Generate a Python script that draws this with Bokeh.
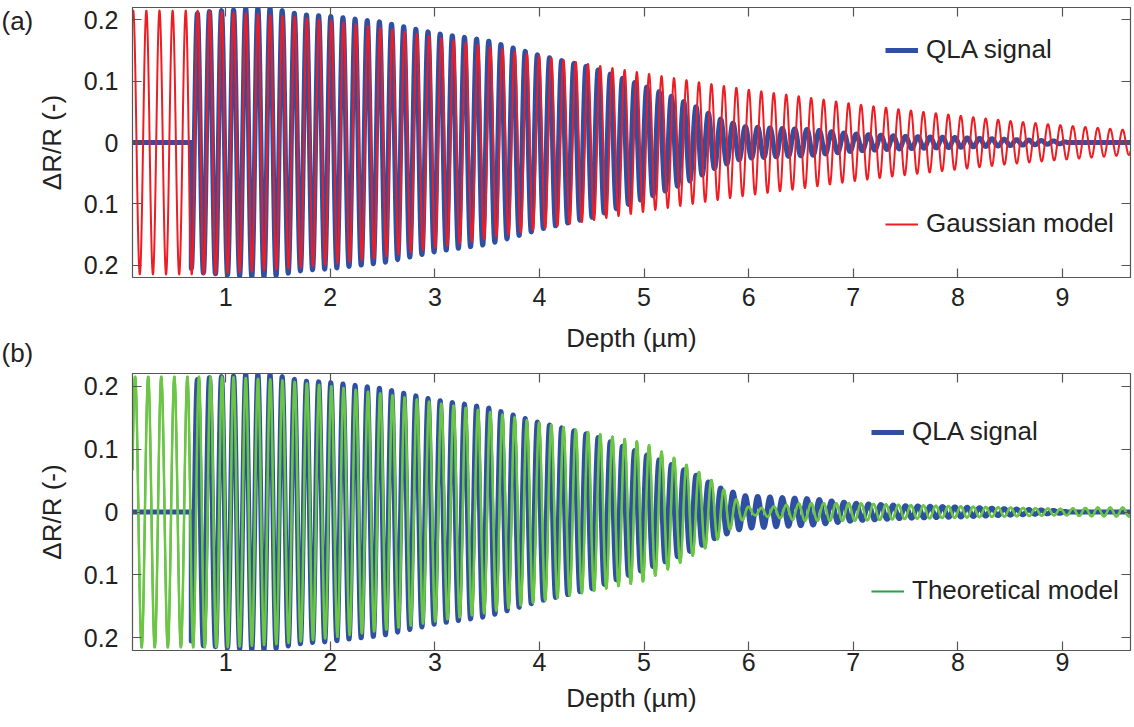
import numpy as np
from bokeh.plotting import figure
from bokeh.models import (LinearAxis, FixedTicker, Legend, LegendItem, Range1d, Label)
from bokeh.layouts import column, row
from bokeh.embed import file_html
from bokeh.resources import INLINE

FONT = "Liberation Sans"
TXT = "#222222"
AX = "#555555"

# ---------------- data ----------------
x_ticks = [1, 2, 3, 4, 5, 6, 7, 8, 9]
y_ticks = [-0.2, -0.1, 0.0, 0.1, 0.2]
y_tick_labels = ["0.2", "0.1", "0", "0.1", "0.2"]
depth_min, depth_max = 0.11, 9.65

# QLA signal (measured): start / end, envelope (amplitude) and peak positions
qla_start, qla_end = 0.672, 9.05
qla_env_depth = [0.672, 0.75, 0.96, 1.08, 1.2, 1.42, 1.54, 1.65, 1.76, 1.98, 2.5, 3.0, 3.5, 4.0,
                 4.5, 5.0, 5.25, 5.5, 5.7, 5.95, 6.3, 6.6, 7.0, 7.5, 8.0, 8.5, 9.0, 9.05]
qla_env = [0.205, 0.212, 0.215, 0.216, 0.219, 0.219, 0.215, 0.211, 0.208, 0.206, 0.196, 0.178, 0.166, 0.142,
           0.122, 0.092, 0.076, 0.058, 0.040, 0.026, 0.023, 0.021, 0.014, 0.010, 0.008, 0.005, 0.002, 0.0]
qla_peak_depth = [0.730, 1.076, 5.026, 7.971, 9.033]
qla_peak_index = [-3, 0, 34, 59, 68]

# Gaussian model
gauss_env_depth = [0.11, 0.9, 1.0, 1.5, 2.0, 2.5, 3.0, 3.5, 4.0, 4.5, 5.0, 5.5, 6.0, 6.5,
                   7.0, 7.5, 8.0, 8.5, 9.0, 9.65]
gauss_env = [0.215, 0.215, 0.213, 0.207, 0.199, 0.187, 0.172, 0.157, 0.141, 0.127, 0.113, 0.099, 0.086, 0.075,
             0.063, 0.053, 0.044, 0.035, 0.028, 0.020]
gauss_peak_depth = [0.117, 0.619, 1.076, 5.048, 8.028, 9.575]
gauss_peak_index = [-8, -4, 0, 34, 59, 72]

# Theoretical model
theo_env_depth = [0.11, 1.0, 1.5, 2.0, 2.5, 3.0, 3.5, 4.0, 4.5, 5.0, 5.3, 5.5, 5.62, 5.73, 5.84,
                  5.95, 6.05, 6.2, 6.5, 7.0, 7.5, 8.0, 8.5, 9.0, 9.3, 9.65]
theo_env = [0.215, 0.215, 0.210, 0.200, 0.188, 0.174, 0.160, 0.142, 0.126, 0.110, 0.085, 0.066, 0.054, 0.040, 0.025,
            0.012, 0.005, 0.008, 0.014, 0.014, 0.011, 0.009, 0.007, 0.005, 0.007, 0.007]
theo_peak_depth = [0.135, 0.635, 1.076, 5.048, 8.028, 9.575]
theo_peak_index = [-8, -4, 0, 34, 59, 72]

panel_tags = ["(a)", "(b)"]

C_QLA = "#2F4FA2"
C_GAUSS = "#EE1D23"
C_THEO = "#6CC644"
C_THEO_LEG = "#2BA04A"

TAG_W = 33           # narrow strip on the left that holds the panel tags
H1, H2 = 372, 354    # heights of the two panels


def cycles(d, pd, pi):
    pd = np.asarray(pd, float)
    pi = np.asarray(pi, float)
    out = np.interp(d, pd, pi)
    sl = (pi[1] - pi[0]) / (pd[1] - pd[0])
    sr = (pi[-1] - pi[-2]) / (pd[-1] - pd[-2])
    out = np.where(d < pd[0], pi[0] + (d - pd[0]) * sl, out)
    out = np.where(d > pd[-1], pi[-1] + (d - pd[-1]) * sr, out)
    return out


def signal(d, ed, ev, pd, pi):
    return np.interp(d, ed, ev) * np.cos(2 * np.pi * cycles(d, pd, pi))


grid = np.linspace(depth_min, depth_max, 5000)

# QLA curve, zero outside its measured span, with a vertical jump at its start
inside = (grid > qla_start) & (grid <= qla_end)
qx = np.concatenate([grid[grid <= qla_start], [qla_start, qla_start], grid[inside], grid[grid > qla_end]])
qy = np.concatenate([np.zeros((grid <= qla_start).sum()), [0.0],
                     signal(np.array([qla_start]), qla_env_depth, qla_env, qla_peak_depth, qla_peak_index),
                     signal(grid[inside], qla_env_depth, qla_env, qla_peak_depth, qla_peak_index),
                     np.zeros((grid > qla_end).sum())])

gy = signal(grid, gauss_env_depth, gauss_env, gauss_peak_depth, gauss_peak_index)
ty = signal(grid, theo_env_depth, theo_env, theo_peak_depth, theo_peak_index)


def style_axis(ax, size="25px"):
    ax.axis_line_color = AX
    ax.axis_line_width = 1.2
    ax.major_tick_line_color = AX
    ax.major_tick_line_width = 1.2
    ax.major_tick_in = 9
    ax.major_tick_out = 0
    ax.minor_tick_line_color = None
    ax.major_label_text_font = FONT
    ax.major_label_text_font_size = size
    ax.major_label_text_color = TXT
    ax.axis_label_text_font = FONT
    ax.axis_label_text_font_size = "26px"
    ax.axis_label_text_font_style = "normal"
    ax.axis_label_text_color = TXT


def legend_style(**kw):
    base = dict(background_fill_alpha=0, border_line_color=None, padding=0, margin=0,
                glyph_height=24, label_height=24, label_text_font=FONT,
                label_text_font_size="26px", label_text_color=TXT)
    base.update(kw)
    return base


def make_panel(height, top_border, bottom_border, tick_standoff, label_standoff,
               model_y, model_color, model_width, model_name, model_leg_color,
               leg_x, leg_top_y, leg_bot_y):
    p = figure(width=1132 - TAG_W, height=height, x_range=Range1d(depth_min, depth_max),
               y_range=Range1d(-0.22, 0.22), output_backend="svg", toolbar_location=None,
               min_border_left=129 - TAG_W, min_border_right=2, min_border_top=top_border,
               min_border_bottom=bottom_border)
    p.grid.visible = False
    p.outline_line_color = AX
    p.background_fill_color = "white"
    p.border_fill_color = "white"

    p.xaxis.ticker = FixedTicker(ticks=x_ticks)
    p.yaxis.ticker = FixedTicker(ticks=y_ticks)
    p.yaxis.major_label_overrides = {t: l for t, l in zip(y_ticks, y_tick_labels)}
    style_axis(p.xaxis[0])
    style_axis(p.yaxis[0])
    p.xaxis.axis_label = "Depth (µm)"
    p.yaxis.axis_label = "ΔR/R (-)"
    p.xaxis.major_label_standoff = tick_standoff
    p.xaxis.axis_label_standoff = label_standoff
    p.yaxis.major_label_standoff = 14
    p.yaxis.axis_label_standoff = 14

    # mirrored inward ticks on the top and right edges (no labels)
    top = LinearAxis(ticker=FixedTicker(ticks=x_ticks),
                     major_label_overrides={t: "" for t in x_ticks})
    right = LinearAxis(ticker=FixedTicker(ticks=y_ticks),
                       major_label_overrides={t: "" for t in y_ticks})
    for ax in (top, right):
        style_axis(ax, "0px")
        ax.major_label_standoff = 0
    p.add_layout(top, "above")
    p.add_layout(right, "right")

    r_q = p.line(qx, qy, line_color=C_QLA, line_width=5, line_join="round")
    if model_leg_color != model_color:
        r_leg = p.line(grid, model_y, line_color=model_leg_color, line_width=2, line_join="round")
    r_m = p.line(grid, model_y, line_color=model_color, line_width=model_width, line_join="round")
    if model_leg_color == model_color:
        r_leg = r_m

    for r, name, ly in ((r_q, "QLA signal", leg_top_y), (r_leg, model_name, leg_bot_y)):
        p.add_layout(Legend(items=[LegendItem(label=name, renderers=[r])], location=(leg_x, ly),
                            **legend_style(glyph_width=33, label_standoff=8)))
    return p


p1 = make_panel(H1, 7, 95, 10, 14, gy, C_GAUSS, 2, "Gaussian model", C_GAUSS,
                753, 212, 38)
p2 = make_panel(H2, 1, 76, 2, 9, ty, C_THEO, 2.5, "Theoretical model", C_THEO_LEG,
                739, 203, 44)

# narrow strip on the left holding the panel tags "(a)" and "(b)"
tagfig = figure(width=TAG_W, height=H1 + H2, title=None, x_range=Range1d(0, 1),
                y_range=Range1d(0, 1), x_axis_type=None, y_axis_type=None,
                output_backend="svg", toolbar_location=None, min_border=0)
tagfig.grid.visible = False
tagfig.outline_line_color = None
tagfig.background_fill_color = "white"
tagfig.border_fill_color = "white"
for tag, cy in zip(panel_tags, [H1 + H2 - 20, H1 + H2 - 352]):
    tagfig.add_layout(Label(x=1, y=cy, x_units="screen", y_units="screen", text=tag,
                            text_font=FONT, text_font_size="26px", text_color=TXT,
                            text_baseline="middle"))

layout = row(tagfig, column(p1, p2, spacing=0), spacing=0)
open("out.html", "w").write(file_html(layout, INLINE))
